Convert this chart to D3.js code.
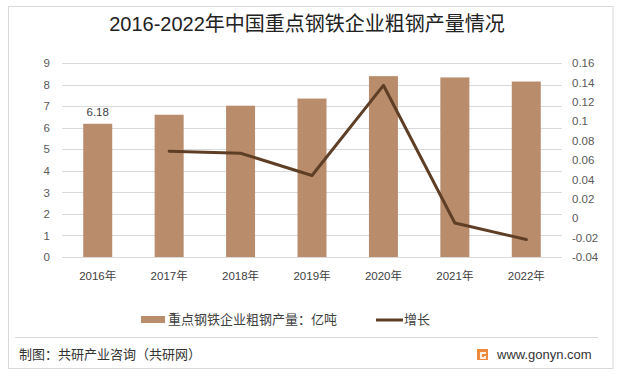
<!DOCTYPE html>
<html>
<head>
<meta charset="utf-8">
<script src="https://cdn.jsdelivr.net/npm/d3@7"></script>
<style>
  html, body { margin: 0; padding: 0; background: #fff; }
  svg text { font-family: "Liberation Sans", "Noto Sans CJK SC", sans-serif; }
</style>
</head>
<body>
<svg id="chart" width="622" height="374"></svg>
<script>
const years = ["2016年", "2017年", "2018年", "2019年", "2020年", "2021年", "2022年"];
const output = [6.18, 6.60, 7.02, 7.35, 8.39, 8.33, 8.14];
const growth = [null, 0.069, 0.067, 0.044, 0.137, -0.005, -0.022];
const leftTicks = [0, 1, 2, 3, 4, 5, 6, 7, 8, 9];
const rightTicks = [-0.04, -0.02, 0, 0.02, 0.04, 0.06, 0.08, 0.1, 0.12, 0.14, 0.16];
const seriesNames = ["重点钢铁企业粗钢产量：亿吨", "增长"];
const titleText = "2016-2022年中国重点钢铁企业粗钢产量情况";
const footerLeft = "制图：共研产业咨询（共研网）";
const footerRight = "www.gonyn.com";

const barColor = "#b98c6b";
const lineColor = "#5e3f26";
const gridColor = "#d9d9d9";
const textColor = "#595959";

const svg = d3.select("#chart");
svg.append("rect").attr("width", 622).attr("height", 374).attr("fill", "#fff");
svg.append("rect").attr("x", 8.5).attr("y", 6.5).attr("width", 604.5).attr("height", 362)
  .attr("fill", "none").attr("stroke", gridColor).attr("stroke-width", 1);

svg.append("text").attr("x", 307).attr("y", 31).attr("text-anchor", "middle")
  .attr("font-size", 20).attr("fill", "#222").text(titleText);

const x = d3.scaleBand().domain(years).range([62, 562]);
const yL = d3.scaleLinear().domain([0, 9]).range([257, 63]);
const yR = d3.scaleLinear().domain([-0.04, 0.16]).range([257, 63]);

// gridlines
svg.append("g").selectAll("line").data(leftTicks).join("line")
  .attr("x1", 62).attr("x2", 562)
  .attr("y1", d => Math.round(yL(d)) + 0.5).attr("y2", d => Math.round(yL(d)) + 0.5)
  .attr("stroke", gridColor).attr("stroke-width", 1);

// left axis
const axL = svg.append("g").attr("transform", "translate(62,0)")
  .call(d3.axisLeft(yL).tickValues(leftTicks).tickSize(0).tickPadding(12).tickFormat(d3.format("d")));
axL.select(".domain").remove();
axL.selectAll("text").attr("font-size", 11.5).attr("fill", textColor)
  .style("font-family", "'Liberation Sans', sans-serif");

// right axis
const axR = svg.append("g").attr("transform", "translate(562,0)")
  .call(d3.axisRight(yR).tickValues(rightTicks).tickSize(0).tickPadding(10).tickFormat(d => String(+d.toFixed(2))));
axR.select(".domain").remove();
axR.selectAll("text").attr("font-size", 11.5).attr("fill", textColor)
  .style("font-family", "'Liberation Sans', sans-serif");

// x axis
const axX = svg.append("g").attr("transform", "translate(0,257)")
  .call(d3.axisBottom(x).tickSize(0).tickPadding(15));
axX.select(".domain").remove();
axX.selectAll("text").attr("font-size", 11.5).attr("fill", "#404040");

// bars
const bw = 29;
svg.append("g").selectAll("rect").data(output).join("rect")
  .attr("x", (d, i) => x(years[i]) + x.bandwidth() / 2 - bw / 2)
  .attr("y", d => yL(d))
  .attr("width", bw)
  .attr("height", d => yL(0) - yL(d))
  .attr("fill", barColor);

// data label on first bar
svg.append("text")
  .attr("x", x(years[0]) + x.bandwidth() / 2)
  .attr("y", yL(output[0]) - 8)
  .attr("text-anchor", "middle").attr("font-size", 11.5).attr("fill", "#404040")
  .text(output[0].toFixed(2));

// growth line
const pts = growth.map((g, i) => ({ g, i })).filter(p => p.g !== null);
svg.append("path").datum(pts)
  .attr("d", d3.line().x(p => x(years[p.i]) + x.bandwidth() / 2).y(p => yR(p.g)))
  .attr("fill", "none").attr("stroke", lineColor).attr("stroke-width", 3)
  .attr("stroke-linejoin", "round").attr("stroke-linecap", "round");

// legend
svg.append("rect").attr("x", 141).attr("y", 316).attr("width", 24).attr("height", 7).attr("fill", barColor);
svg.append("text").attr("x", 168).attr("y", 324).attr("font-size", 13).attr("fill", "#404040").text(seriesNames[0]);
svg.append("line").attr("x1", 376).attr("x2", 403).attr("y1", 320).attr("y2", 320)
  .attr("stroke", lineColor).attr("stroke-width", 3);
svg.append("text").attr("x", 404).attr("y", 324).attr("font-size", 13).attr("fill", "#404040").text(seriesNames[1]);

// footer
svg.append("line").attr("x1", 15).attr("x2", 598).attr("y1", 337.5).attr("y2", 337.5)
  .attr("stroke", gridColor).attr("stroke-width", 1);
svg.append("text").attr("x", 19).attr("y", 359).attr("font-size", 13).attr("fill", "#333").text(footerLeft);
svg.append("rect").attr("x", 477).attr("y", 349).attr("width", 11).attr("height", 11).attr("fill", "#f08a3c");
svg.append("path").attr("d", "M480,352 h6 v2 h-4 v3 h2 v-1 h2 v3 h-6 z").attr("fill", "#fff").attr("opacity", 0.85);
svg.append("text").attr("x", 497).attr("y", 359).attr("font-size", 13).attr("fill", "#333").text(footerRight);
</script>
</body>
</html>
